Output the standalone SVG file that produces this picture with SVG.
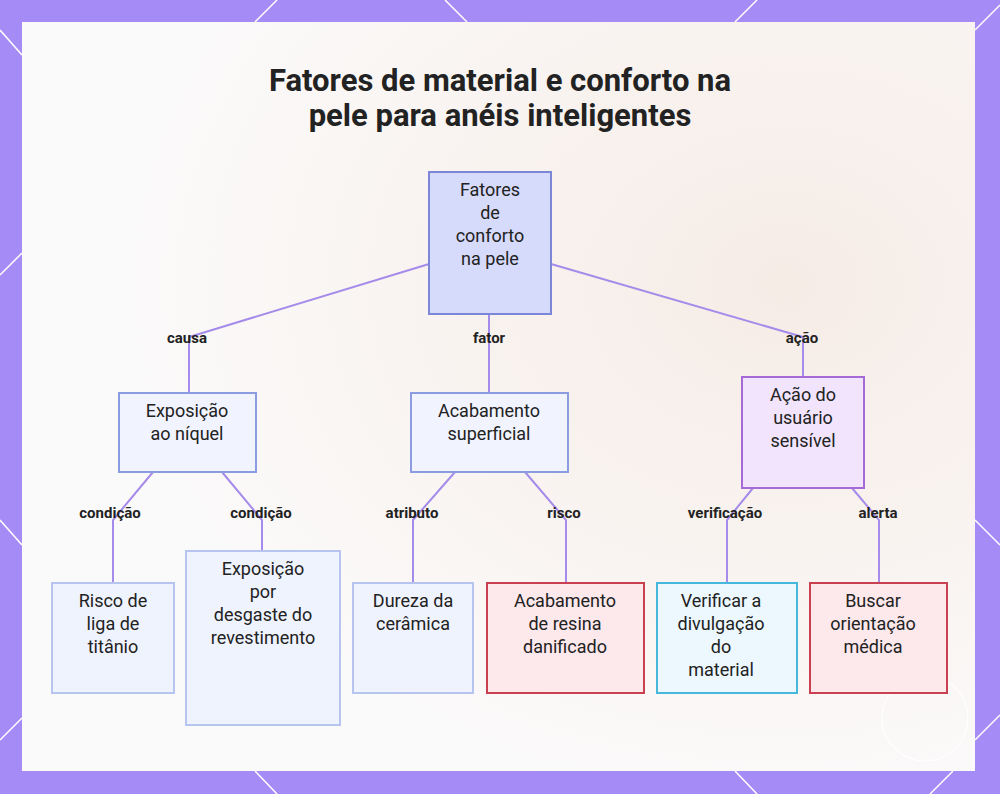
<svg xmlns="http://www.w3.org/2000/svg" width="1000" height="794" viewBox="0 0 1000 794">
<style>
text{font-family:Roboto,"Liberation Sans",sans-serif;fill:#222;text-anchor:middle}
.n{font-size:18px}
.l{font-size:15px;font-weight:bold}
.c{fill:none;stroke:#a58bea;stroke-width:2}
.w{stroke:#fff;stroke-width:1.5}
</style>
<defs>
<radialGradient id="bg" cx="0.8" cy="0.35" r="0.7"><stop offset="0" stop-color="#f6ece6"/><stop offset="1" stop-color="#fbfafa"/></radialGradient>
</defs>
<rect width="1000" height="794" fill="#a58bf5"/>
<g class="w">
<line x1="0" y1="30" x2="22" y2="55"/><line x1="255" y1="22" x2="277" y2="0"/><line x1="445" y1="0" x2="467" y2="22"/><line x1="735" y1="22" x2="757" y2="0"/>
<line x1="975" y1="30" x2="1000" y2="5"/><line x1="0" y1="275" x2="22" y2="253"/><line x1="975" y1="520" x2="1000" y2="545"/><line x1="975" y1="740" x2="1000" y2="715"/>
<line x1="0" y1="520" x2="22" y2="545"/><line x1="735" y1="771" x2="757" y2="794"/><line x1="930" y1="794" x2="953" y2="771"/><line x1="255" y1="771" x2="277" y2="794"/><line x1="0" y1="740" x2="22" y2="718"/>
</g>
<rect x="22" y="22" width="953" height="749" fill="url(#bg)"/>
<circle cx="925" cy="718" r="43" fill="none" stroke="#fff" stroke-width="1.2"/>
<text x="500" y="91" style="font-size:31px;font-weight:bold">Fatores de material e conforto na</text>
<text x="500" y="126" style="font-size:31px;font-weight:bold">pele para anéis inteligentes</text>
<g id="connectors">
<polyline class="c" points="429,264 189,337 189,393"/>
<polyline class="c" points="489,314 489,393"/>
<polyline class="c" points="551,264 803,337 803,377"/>
<polyline class="c" points="153,472 113,520 113,583"/>
<polyline class="c" points="222,472 262,520 262,551"/>
<polyline class="c" points="455,472 413,520 413,583"/>
<polyline class="c" points="525,472 566,520 566,583"/>
<polyline class="c" points="753,488 727,520 727,583"/>
<polyline class="c" points="852,488 879,520 879,583"/>
<text class="l" x="187" y="343">causa</text><text class="l" x="489" y="343">fator</text><text class="l" x="802" y="343">ação</text>
<text class="l" x="110" y="518">condição</text><text class="l" x="261" y="518">condição</text><text class="l" x="412" y="518">atributo</text><text class="l" x="564" y="518">risco</text><text class="l" x="725" y="518">verificação</text><text class="l" x="878" y="518">alerta</text>
</g>
<g id="root"><rect x="429" y="172" width="122" height="142" fill="#d6dbfc" stroke="#7b86d6" stroke-width="2"/>
<text class="n" x="490" y="196">Fatores</text><text class="n" x="490" y="219">de</text><text class="n" x="490" y="242">conforto</text><text class="n" x="490" y="265">na pele</text></g>
<g id="niquel"><rect x="119" y="393" width="137" height="79" fill="#f1f4fe" stroke="#8c9ce0" stroke-width="2"/>
<text class="n" x="187" y="417">Exposição</text><text class="n" x="187" y="440">ao níquel</text></g>
<g id="acab"><rect x="411" y="393" width="157" height="79" fill="#f1f4fe" stroke="#8c9ce0" stroke-width="2"/>
<text class="n" x="489" y="417">Acabamento</text><text class="n" x="489" y="440">superficial</text></g>
<g id="acao"><rect x="742" y="377" width="122" height="111" fill="#f1e4fc" stroke="#a66ad6" stroke-width="2"/>
<text class="n" x="803" y="401">Ação do</text><text class="n" x="803" y="424">usuário</text><text class="n" x="803" y="447">sensível</text></g>
<g id="titanio"><rect x="52" y="583" width="122" height="110" fill="#eff3fe" stroke="#b8c4f0" stroke-width="2"/>
<text class="n" x="113" y="607">Risco de</text><text class="n" x="113" y="630">liga de</text><text class="n" x="113" y="653">titânio</text></g>
<g id="desgaste"><rect x="186" y="551" width="154" height="174" fill="#eff3fe" stroke="#b8c4f0" stroke-width="2"/>
<text class="n" x="263" y="575">Exposição</text><text class="n" x="263" y="598">por</text><text class="n" x="263" y="621">desgaste do</text><text class="n" x="263" y="644">revestimento</text></g>
<g id="dureza"><rect x="353" y="583" width="120" height="110" fill="#eff3fe" stroke="#b8c4f0" stroke-width="2"/>
<text class="n" x="413" y="607">Dureza da</text><text class="n" x="413" y="630">cerâmica</text></g>
<g id="resina"><rect x="487" y="583" width="157" height="110" fill="#fde8ec" stroke="#c94050" stroke-width="2"/>
<text class="n" x="565" y="607">Acabamento</text><text class="n" x="565" y="630">de resina</text><text class="n" x="565" y="653">danificado</text></g>
<g id="verificar"><rect x="657" y="583" width="140" height="110" fill="#ecf7fe" stroke="#45b8dc" stroke-width="2"/>
<text class="n" x="721" y="607">Verificar a</text><text class="n" x="721" y="630">divulgação</text><text class="n" x="721" y="653">do</text><text class="n" x="721" y="676">material</text></g>
<g id="buscar"><rect x="810" y="583" width="137" height="110" fill="#fde8ec" stroke="#c94050" stroke-width="2"/>
<text class="n" x="873" y="607">Buscar</text><text class="n" x="873" y="630">orientação</text><text class="n" x="873" y="653">médica</text></g>
</svg>
